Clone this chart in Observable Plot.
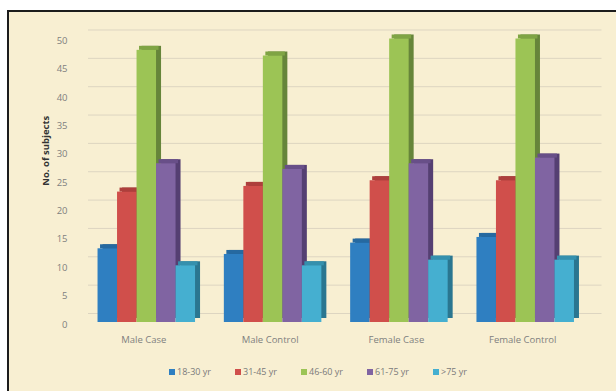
<!DOCTYPE html>
<html>
<head>
<meta charset="utf-8">
<script src="https://cdn.jsdelivr.net/npm/d3@7"></script>
<script src="https://cdn.jsdelivr.net/npm/@observablehq/plot@0.6"></script>
<style>
  html, body { margin: 0; padding: 0; background: #ffffff; width: 616px; height: 391px; overflow: hidden; }
  #frame { position: absolute; left: 7px; top: 10px; width: 660px; height: 430px;
           border-left: 2px solid #1c1c1c; border-top: 2px solid #1c1c1c; background: #f8efd2; }
  .layer { position: absolute; left: 0; top: 0; }
  .layer svg { display: block; }
  #legend { position: absolute; left: 169px; top: 365px; display: flex; align-items: center;
            font-family: "Open Sans", sans-serif; font-size: 9px; color: #7a7a7a; white-space: nowrap; }
  #legend .item { display: flex; align-items: center; margin-right: 24px; }
  #legend .sw { width: 6px; height: 6px; margin-right: 2px; }
</style>
</head>
<body>
<div id="frame"></div>
<div id="bg" class="layer"></div>
<div id="fg" class="layer"></div>
<div id="legend"></div>
<script>
// ---- data ----
const categories = ["Male Case", "Male Control", "Female Case", "Female Control"];
const ageGroups = ["18-30 yr", "31-45 yr", "46-60 yr", "61-75 yr", ">75 yr"];
const age18to30 = [13, 12, 14, 15];
const age31to45 = [23, 24, 25, 25];
const age46to60 = [48, 47, 50, 50];
const age61to75 = [28, 27, 28, 29];
const ageOver75 = [10, 10, 11, 11];
const yTicks = [0, 5, 10, 15, 20, 25, 30, 35, 40, 45, 50];
const yLabel = "No. of subjects";

// ---- styles ----
const frontColors = ["#2f7fc1", "#d04f4b", "#9cc455", "#8064a2", "#45afd0"];
const topColors   = ["#2669a0", "#ad3f3c", "#7fa444", "#684f88", "#3590ad"];
const sideColors  = ["#1e5686", "#8f3230", "#66853a", "#553f72", "#2a7690"];

const series = [age18to30, age31to45, age46to60, age61to75, ageOver75];
const data = categories.flatMap((c, i) =>
  ageGroups.map((a, j) => ({category: c, age: a, idx: j, value: series[j][i]})));

const dims = {width: 616, height: 350, marginTop: 38.5, marginBottom: 28, marginLeft: 70, marginRight: 14.5};
const font = "'Open Sans', sans-serif";

const bg = Plot.plot({
  ...dims,
  style: {background: "transparent", fontFamily: font, fontSize: "9.5px", color: "#7f7f7f", overflow: "visible"},
  y: {domain: [0, 50]},
  marks: [
    Plot.ruleY(yTicks, {dy: -9, insetLeft: 18, stroke: "#ddd5c1", strokeWidth: 1}),
    Plot.axisY({ticks: yTicks, tickSize: 0, tickPadding: 3, label: null, dy: 2}),
    Plot.text([yLabel], {frameAnchor: "left", rotate: -90, dx: -25, dy: 5, fontWeight: "bold",
                         fill: "#333333", fontSize: 9.5})
  ]
});
document.getElementById("bg").appendChild(bg);

const fg = Plot.plot({
  ...dims,
  style: {background: "transparent", fontFamily: font, fontSize: "9.5px", color: "#7f7f7f", overflow: "visible"},
  fx: {domain: categories, paddingInner: 0.228, paddingOuter: 0.218, round: false, label: null, axis: null},
  x: {domain: ageGroups, padding: 0, round: false, axis: null},
  y: {domain: [0, 50], axis: null},
  marks: [
    Plot.barY(data, {fx: "category", x: "age", y: "value", fill: d => sideColors[d.idx], dx: 5, dy: -4}),
    Plot.barY(data, {fx: "category", x: "age", y1: "value", y2: "value", insetTop: -4, dx: 2.5,
                     fill: d => topColors[d.idx]}),
    Plot.barY(data, {fx: "category", x: "age", y: "value", fill: d => frontColors[d.idx]}),
    Plot.axisFx({anchor: "bottom", tickSize: 0, tickPadding: 14, label: null, dx: -3})
  ]
});
document.getElementById("fg").appendChild(fg);

// ---- legend ----
const legend = document.getElementById("legend");
ageGroups.forEach((a, j) => {
  const item = document.createElement("div");
  item.className = "item";
  const sw = document.createElement("span");
  sw.className = "sw";
  sw.style.background = frontColors[j];
  const lab = document.createElement("span");
  lab.textContent = a;
  item.appendChild(sw);
  item.appendChild(lab);
  legend.appendChild(item);
});
</script>
</body>
</html>
